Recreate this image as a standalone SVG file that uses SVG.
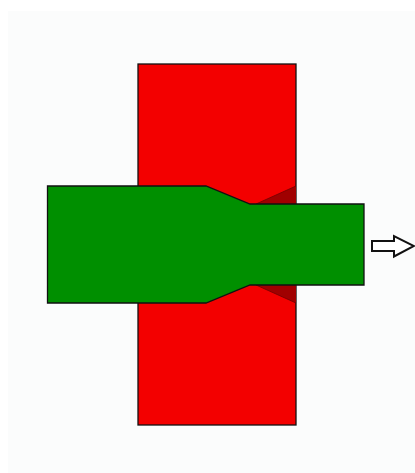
<svg xmlns="http://www.w3.org/2000/svg" width="415" height="473" viewBox="0 0 415 473">
<style>
.o{stroke:#111;stroke-width:1.300;stroke-linejoin:miter}
.d{fill:#a00000;stroke:none}
</style>
<rect width="415" height="473" fill="#fff"/>
<rect x="8" y="11" width="407" height="462" fill="#fbfcfc"/>
<g id="die">
<rect class="o" x="138" y="64" width="158" height="361" fill="#f30000"/>
<path class="d" d="M296 186L256 204H296Z"/>
<path class="d" d="M296 303L256 285H296Z"/>
<path d="M296 186L256 204M296 303L256 285" stroke="#700000" stroke-width="0.800" fill="none"/>
</g>
<g id="workpiece">
<path class="o" fill="#008f00" d="M47.500 186H206L250 204H364V285H250L206 303H47.500Z"/>
</g>
<g id="arrow">
<path fill="#fff" stroke="#111" stroke-width="2" d="M372 241H394V236L414 246L394 256.500V251H372Z"/>
</g>
</svg>
